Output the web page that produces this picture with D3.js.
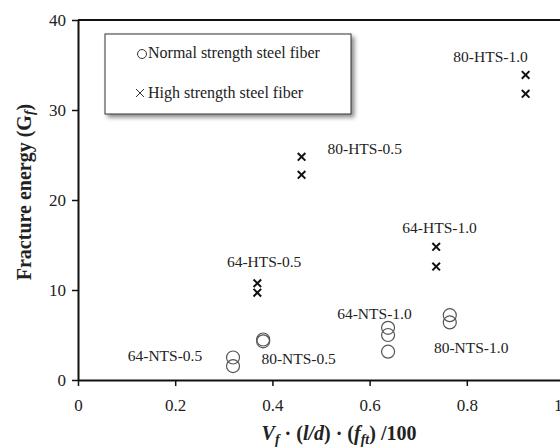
<!DOCTYPE html>
<html>
<head>
<meta charset="utf-8">
<script src="https://cdn.jsdelivr.net/npm/d3@7"></script>
<style>
  body { margin: 0; background: #fff; }
  svg text { font-family: "Liberation Serif", "Times New Roman", serif !important; }
</style>
</head>
<body>
<div id="chart"></div>
<script>
var svgWidth = 560;
var svgHeight = 448;

var margin = { top: 20, right: -4, bottom: 68, left: 78 };
var width = svgWidth - margin.left - margin.right;
var height = svgHeight - margin.top - margin.bottom;

// Data
var normalX = [0.319, 0.319, 0.381, 0.381, 0.638, 0.638, 0.638, 0.765, 0.765];
var normalY = [2.5, 1.55, 4.5, 4.3, 5.8, 5.0, 3.15, 7.2, 6.4];
var highX = [0.369, 0.369, 0.46, 0.46, 0.737, 0.737, 0.921, 0.921];
var highY = [10.75, 9.7, 24.8, 22.8, 14.8, 12.6, 33.9, 31.8];

var labelText = ["64-NTS-0.5", "80-NTS-0.5", "64-HTS-0.5", "80-HTS-0.5",
                 "64-NTS-1.0", "80-NTS-1.0", "64-HTS-1.0", "80-HTS-1.0"];
var labelX = [0.179, 0.454, 0.383, 0.59, 0.61, 0.809, 0.744, 0.849];
var labelY = [2.1, 1.75, 12.6, 25.1, 6.8, 3.05, 16.3, 35.3];

var xTicks = [0, 0.2, 0.4, 0.6, 0.8, 1];
var yTicks = [0, 10, 20, 30, 40];

var legendText = ["Normal strength steel fiber", "High strength steel fiber"];

var svg = d3.select("#chart")
  .append("svg")
  .attr("width", svgWidth)
  .attr("height", svgHeight);

var defs = svg.append("defs");
var shadow = defs.append("filter").attr("id", "shadow")
  .attr("x", "-10%").attr("y", "-10%").attr("width", "130%").attr("height", "140%");
shadow.append("feDropShadow")
  .attr("dx", 3).attr("dy", 3).attr("stdDeviation", 2)
  .attr("flood-color", "#000").attr("flood-opacity", 0.45);

var chartGroup = svg.append("g")
  .attr("transform", `translate(${margin.left}, ${margin.top})`);

var xScale = d3.scaleLinear().domain([0, 1]).range([0, width]);
var yScale = d3.scaleLinear().domain([0, 40]).range([height, 0]);

// top frame line
chartGroup.append("line")
  .attr("x1", 0).attr("x2", width)
  .attr("y1", 0).attr("y2", 0)
  .attr("stroke", "#111").attr("stroke-width", 2);

// Axes
var bottomAxis = d3.axisBottom(xScale).tickValues(xTicks)
  .tickFormat(d => d === 0 ? "0" : d3.format(".1f")(d)).tickSize(6).tickSizeOuter(0);
var leftAxis = d3.axisLeft(yScale).tickValues(yTicks).tickSize(6).tickSizeOuter(0);

var xg = chartGroup.append("g")
  .attr("transform", `translate(0, ${height})`)
  .call(bottomAxis);
var yg = chartGroup.append("g").call(leftAxis);

[xg, yg].forEach(function(g) {
  g.select(".domain").attr("stroke", "#111").attr("stroke-width", 2);
  g.selectAll(".tick line").attr("stroke", "#111").attr("stroke-width", 1.5);
  g.selectAll(".tick text")
    .attr("font-size", 17).attr("fill", "#222");
});
xg.selectAll(".tick text").attr("dy", "1.3em");
yg.selectAll(".tick text").attr("x", -12).attr("dy", "0.35em");

// Normal strength points
chartGroup.selectAll("circle.normal")
  .data(normalX)
  .enter()
  .append("circle")
  .attr("class", "normal")
  .attr("cx", d => xScale(d))
  .attr("cy", (d, i) => yScale(normalY[i]))
  .attr("r", 6.5)
  .attr("fill", "none")
  .attr("stroke", "#555")
  .attr("stroke-width", 1.2);

// High strength points
var cross = 3.8;
chartGroup.selectAll("path.high")
  .data(highX)
  .enter()
  .append("path")
  .attr("class", "high")
  .attr("transform", (d, i) => `translate(${xScale(d)}, ${yScale(highY[i])})`)
  .attr("d", `M${-cross},${-cross}L${cross},${cross}M${-cross},${cross}L${cross},${-cross}`)
  .attr("stroke", "#111")
  .attr("stroke-width", 2);

// Point labels
chartGroup.selectAll("text.lbl")
  .data(labelText)
  .enter()
  .append("text")
  .attr("class", "lbl")
  .attr("x", (d, i) => xScale(labelX[i]))
  .attr("y", (d, i) => yScale(labelY[i]))
  .attr("text-anchor", "middle")
  .attr("font-size", 15.5)
  .attr("fill", "#222")
  .text(d => d);

// Legend
var legend = svg.append("g").attr("transform", "translate(105, 34)");
legend.append("rect")
  .attr("width", 246).attr("height", 80)
  .attr("fill", "#fff").attr("stroke", "#333").attr("stroke-width", 1)
  .attr("filter", "url(#shadow)");
legend.append("circle")
  .attr("cx", 37).attr("cy", 20).attr("r", 4.5)
  .attr("fill", "none").attr("stroke", "#333").attr("stroke-width", 1);
legend.append("path")
  .attr("d", "M31,55L39,63M31,63L39,55")
  .attr("stroke", "#333").attr("stroke-width", 1);
legend.selectAll("text")
  .data(legendText)
  .enter()
  .append("text")
  .attr("x", 43)
  .attr("y", (d, i) => 24 + i * 40)
  .attr("font-size", 16)
  .attr("fill", "#222")
  .text(d => d);

// Axis titles
svg.append("text")
  .attr("transform", "translate(31, 192) rotate(-90)")
  .attr("text-anchor", "middle")
  .attr("font-size", 20)
  .attr("font-weight", "bold")
  .attr("fill", "#222")
  .html('Fracture energy (G<tspan font-style="italic" font-size="14" dy="3">f</tspan><tspan dy="-3">)</tspan>');

svg.append("text")
  .attr("x", 339)
  .attr("y", 440)
  .attr("text-anchor", "middle")
  .attr("font-size", 20)
  .attr("font-weight", "bold")
  .attr("fill", "#222")
  .html('<tspan font-style="italic">V</tspan><tspan font-style="italic" font-size="14" dy="4">f</tspan>' +
        '<tspan dy="-4"> · (</tspan><tspan font-style="italic">l/d</tspan><tspan>) · (</tspan>' +
        '<tspan font-style="italic">f</tspan><tspan font-style="italic" font-size="14" dy="4">ft</tspan>' +
        '<tspan dy="-4">) /100</tspan>');
</script>
</body>
</html>
